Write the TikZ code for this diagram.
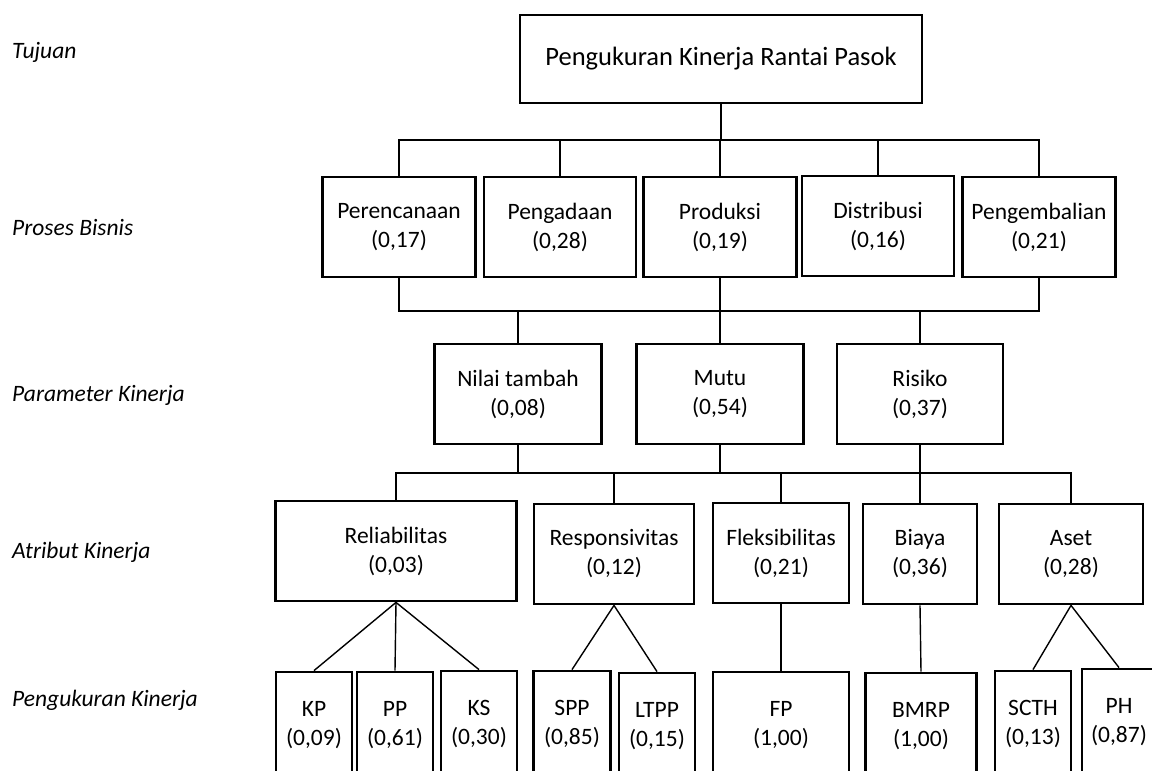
\documentclass[tikz,border=0pt]{standalone}
\usepackage{fontspec}
\setmainfont{Carlito}
\tikzset{
box/.style={draw, line width=2.8pt, align=center, inner sep=0pt, minimum height=100, font=\fontsize{23.5}{29}\selectfont},
leaf/.style={box, minimum height=106},
link/.style={line width=1.4pt},
thicklink/.style={line width=2.8pt},
level/.style={anchor=west, inner sep=0pt, font=\fontsize{23.5}{29}\selectfont\itshape}
}
\begin{document}
\begin{tikzpicture}[x=1pt,y=-1pt]
\useasboundingbox (0,0) rectangle (1152,771);
\clip (0,0) rectangle (1152,771);
\node(L1) [level] at (12,52)  {Tujuan};
\node(L2) [level] at (12,227) {Proses Bisnis};
\node(L3) [level] at (12,395) {Parameter Kinerja};
\node(L4) [level] at (12,552) {Atribut Kinerja};
\node(L5) [level] at (12,700) {Pengukuran Kinerja};
\node(T)  [box, minimum width=402, minimum height=88, font=\fontsize{26.5}{30}\selectfont] at (721,59) {Pengukuran Kinerja Rantai Pasok};
\node(P1) [box, minimum width=153] at (399,227)  {Perencanaan\\(0,17)};
\node(P2) [box, minimum width=152] at (560,227)  {Pengadaan\\(0,28)};
\node(P3) [box, minimum width=153] at (720,227)  {Produksi\\(0,19)};
\node(P4) [box, minimum width=152] at (878,226)  {Distribusi\\(0,16)};
\node(P5) [box, minimum width=153] at (1039,227) {Pengembalian\\(0,21)};
\node(N1) [box, minimum width=167] at (518,394)  {Nilai tambah\\(0,08)};
\node(N2) [box, minimum width=167] at (720,394)  {Mutu\\(0,54)};
\node(N3) [box, minimum width=166] at (920,394)  {Risiko\\(0,37)};
\node(A1) [box, minimum width=241] at (396,551)  {Reliabilitas\\(0,03)};
\node(A2) [box, minimum width=160] at (614,554)  {Responsivitas\\(0,12)};
\node(A3) [box, minimum width=136] at (781,553)  {Fleksibilitas\\(0,21)};
\node(A4) [box, minimum width=114] at (920,554)  {Biaya\\(0,36)};
\node(A5) [box, minimum width=144] at (1071,554) {Aset\\(0,28)};
\node(K1) [leaf, minimum width=76]  at (314,725)  {KP\\(0,09)};
\node(K2) [leaf, minimum width=76]  at (395,725)  {PP\\(0,61)};
\node(K3) [leaf, minimum width=76]  at (479,724)  {KS\\(0,30)};
\node(K4) [leaf, minimum width=77]  at (572,724)  {SPP\\(0,85)};
\node(K5) [leaf, minimum width=76]  at (657,726)  {LTPP\\(0,15)};
\node(K6) [leaf, minimum width=136] at (781,725)  {FP\\(1,00)};
\node(K7) [leaf, minimum width=111] at (921,726)  {BMRP\\(1,00)};
\node(K8) [leaf, minimum width=76]  at (1033,724) {SCTH\\(0,13)};
\node(K9) [leaf, minimum width=74]  at (1119,722) {PH\\(0,87)};
\coordinate(B1) at (0,140);
\coordinate(B2) at (0,311);
\coordinate(B3) at (0,473);
\draw[thicklink] (T.south) -- (T.south |- B1);
\draw[link] (P1.north) |- (P5.north |- B1) -- (P5.north);
\foreach \n in {P2,P3,P4}
\draw[link] (\n.north) -- (\n.north |- B1);
\draw[link] (P1.south) |- (P5.south |- B2) -- (P5.south);
\draw[link] (P3.south) -- (P3.south |- B2);
\foreach \n in {N1,N2,N3}
\draw[link] (\n.north) -- (\n.north |- B2);
\draw[link] (A1.north) |- (N1.south |- B3);
\draw[link] (A5.north) |- (N3.south |- B3);
\draw[thicklink] (N1.south) |- (N3.south |- B3) -- (N3.south);
\draw[link] (N2.south) -- (N2.south |- B3);
\foreach \n in {A2,A3,A4}
\draw[link] (\n.north) -- (\n.north |- B3);
\foreach \k in {K1,K2,K3}
\draw[link] (A1.south) -- (\k.north);
\foreach \k in {K4,K5}
\draw[link] (A2.south) -- (\k.north);
\draw[link] (A3.south) -- (K6.north);
\draw[link] (A4.south) -- (K7.north);
\foreach \k in {K8,K9}
\draw[link] (A5.south) -- (\k.north);
\end{tikzpicture}
\end{document}
